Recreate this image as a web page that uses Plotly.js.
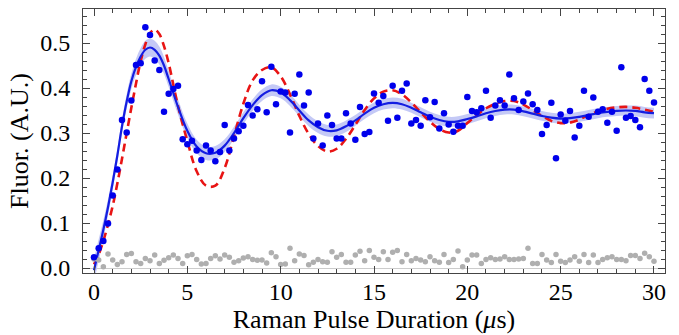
<!DOCTYPE html>
<html>
<head>
<meta charset="utf-8">
<script src="https://cdn.plot.ly/plotly-3.0.1.min.js"></script>
<style>html,body{margin:0;padding:0;background:#fff;}#chart{width:679px;height:335px;}</style>
</head>
<body>
<div id="chart"></div>
<script>
// Sampling grid of the measurements (every 0.25 us, 0 .. 30 us)
const sampleStep = 0.25;
const sampleCount = 121;
const pulseTimes = Array.from({length: sampleCount}, (_, i) => i * sampleStep);

// Measured fluorescence (blue points)
const fluorSignal = [
  0.024, 0.044, 0.060, 0.099,
  0.161, 0.219, 0.329, 0.301,
  0.372, 0.451, 0.455, 0.535,
  0.518, 0.461, 0.440, 0.347,
  0.387, 0.398, 0.405, 0.286,
  0.275, 0.283, 0.261, 0.240,
  0.272, 0.261, 0.237, 0.258,
  0.318, 0.261, 0.288, 0.304,
  0.316, 0.362, 0.339, 0.353,
  0.415, 0.346, 0.447, 0.364,
  0.392, 0.390, 0.301, 0.387,
  0.430, 0.361, 0.390, 0.288,
  0.321, 0.272, 0.339, 0.318,
  0.288, 0.288, 0.344, 0.321,
  0.285, 0.358, 0.298, 0.302,
  0.388, 0.367, 0.382, 0.327,
  0.405, 0.334, 0.394, 0.410,
  0.321, 0.329, 0.316, 0.373,
  0.335, 0.369, 0.310, 0.344,
  0.319, 0.303, 0.316, 0.316,
  0.380, 0.349, 0.346, 0.355,
  0.394, 0.334, 0.361, 0.373,
  0.361, 0.430, 0.377, 0.351,
  0.370, 0.388, 0.364, 0.351,
  0.298, 0.318, 0.367, 0.244,
  0.341, 0.327, 0.349, 0.290,
  0.316, 0.394, 0.336, 0.379,
  0.347, 0.353, 0.323, 0.347,
  0.305, 0.446, 0.334, 0.338,
  0.329, 0.313, 0.420, 0.394,
  0.368
];

// Background fluorescence (gray points)
const backgroundSignal = [
  0.020, 0.018, 0.003, 0.031,
  0.018, 0.008, 0.014, 0.030,
  0.032, 0.014, 0.010, 0.021,
  0.016, 0.029, 0.010, 0.017,
  0.023, 0.029, 0.021, 0.010,
  0.027, 0.030, 0.019, 0.009,
  0.010, 0.021, 0.027, 0.020,
  0.029, 0.024, 0.013, 0.016,
  0.022, 0.025, 0.019, 0.017,
  0.018, 0.011, 0.034, 0.025,
  0.008, 0.009, 0.044, 0.016,
  0.031, 0.028, 0.007, 0.013,
  0.019, 0.014, 0.013, 0.036,
  0.024, 0.030, 0.013, 0.013,
  0.029, 0.037, 0.016, 0.039,
  0.024, 0.019, 0.036, 0.019,
  0.035, 0.039, 0.014, 0.030,
  0.016, 0.021, 0.018, 0.014,
  0.025, 0.016, 0.013, 0.030,
  0.012, 0.019, 0.038, 0.003,
  0.018, 0.029, 0.029, 0.010,
  0.019, 0.023, 0.019, 0.020,
  0.025, 0.019, 0.019, 0.020,
  0.021, 0.044, 0.010, 0.010,
  0.030, 0.018, 0.012, 0.030,
  0.015, 0.012, 0.018, 0.025,
  0.015, 0.030, 0.012, 0.029,
  0.012, 0.019, 0.023, 0.025,
  0.019, 0.019, 0.016, 0.028,
  0.028, 0.021, 0.033, 0.025,
  0.015
];

// Curves
const curveTimes = [0, 0.25, 0.5, 0.75, 1, 1.25, 1.5, 1.75, 2, 2.25, 2.5, 2.75, 3, 3.25, 3.5, 3.75,
  4, 4.5, 5, 5.5, 6, 6.5, 7, 7.5, 8, 8.5, 9, 9.5, 10, 10.5, 11, 11.5, 12, 12.5, 13, 13.5,
  14, 14.5, 15, 15.5, 16, 16.5, 17, 17.5, 18, 18.5, 19, 19.5, 20, 20.5, 21, 21.5, 22, 22.5,
  23, 23.5, 24, 24.5, 25, 25.5, 26, 26.5, 27, 27.5, 28, 28.5, 29, 29.5, 30];

const fitCurve = [-0.005, 0.040, 0.085, 0.135, 0.190, 0.250, 0.315, 0.370, 0.415, 0.447, 0.470, 0.485, 0.490, 0.485, 0.472, 0.450,
  0.420, 0.358, 0.305, 0.270, 0.255, 0.256, 0.272, 0.300, 0.333, 0.362, 0.384, 0.395, 0.390, 0.373, 0.350, 0.328, 0.313, 0.305, 0.306, 0.315,
  0.328, 0.343, 0.356, 0.364, 0.367, 0.364, 0.356, 0.346, 0.336, 0.329, 0.325, 0.326, 0.331, 0.337, 0.344, 0.349, 0.352, 0.352,
  0.348, 0.343, 0.338, 0.334, 0.332, 0.333, 0.336, 0.340, 0.344, 0.347, 0.349, 0.350, 0.349, 0.346, 0.344];

const fitBandHalfWidth = [0.026, 0.024, 0.021, 0.018, 0.016, 0.015, 0.015, 0.016, 0.017, 0.018, 0.019, 0.020, 0.020, 0.020, 0.020, 0.019,
  0.018, 0.017, 0.016, 0.015, 0.015, 0.015, 0.014, 0.014, 0.013, 0.013, 0.013, 0.013, 0.013, 0.013, 0.013, 0.013, 0.013, 0.013, 0.013, 0.013,
  0.012, 0.012, 0.012, 0.012, 0.012, 0.012, 0.011, 0.011, 0.011, 0.011, 0.011, 0.011, 0.011, 0.011, 0.011, 0.011, 0.011, 0.011,
  0.011, 0.011, 0.011, 0.011, 0.011, 0.011, 0.011, 0.011, 0.011, 0.011, 0.011, 0.011, 0.012, 0.012, 0.012];

const theoryCurve = [0.008, 0.030, 0.060, 0.097, 0.138, 0.188, 0.243, 0.300, 0.356, 0.410, 0.460, 0.497, 0.522, 0.530, 0.520, 0.493,
  0.455, 0.360, 0.282, 0.215, 0.183, 0.183, 0.222, 0.293, 0.365, 0.417, 0.440, 0.446, 0.426, 0.386, 0.338, 0.298, 0.271, 0.259, 0.265, 0.287,
  0.318, 0.351, 0.377, 0.392, 0.395, 0.386, 0.368, 0.346, 0.325, 0.309, 0.301, 0.305, 0.322, 0.340, 0.355, 0.365, 0.371, 0.371,
  0.363, 0.351, 0.338, 0.327, 0.322, 0.323, 0.330, 0.340, 0.348, 0.354, 0.357, 0.358, 0.356, 0.352, 0.347];

const xTickVals = [0, 5, 10, 15, 20, 25, 30];
const xTickText = ['0', '5', '10', '15', '20', '25', '30'];
const yTickVals = [0, 0.1, 0.2, 0.3, 0.4, 0.5];
const yTickText = ['0.0', '0.1', '0.2', '0.3', '0.4', '0.5'];

const bandLower = fitCurve.map((v, i) => v - fitBandHalfWidth[i]);
const bandUpper = fitCurve.map((v, i) => v + fitBandHalfWidth[i]);

const traces = [
  {x: curveTimes, y: bandLower, mode: 'lines', line: {width: 0, shape: 'spline', color: 'rgba(0,0,0,0)'}, hoverinfo: 'skip', showlegend: false},
  {x: curveTimes, y: bandUpper, mode: 'lines', fill: 'tonexty', fillcolor: 'rgb(196,201,246)', line: {width: 0, shape: 'spline', color: 'rgba(0,0,0,0)'}, hoverinfo: 'skip', showlegend: false},
  {x: curveTimes, y: theoryCurve, mode: 'lines', line: {color: 'rgb(232,20,20)', width: 2.6, dash: '8px,5px', shape: 'spline'}, showlegend: false},
  {x: curveTimes, y: fitCurve, mode: 'lines', line: {color: 'rgb(20,30,225)', width: 2.2, shape: 'spline'}, showlegend: false},
  {x: pulseTimes, y: backgroundSignal, mode: 'markers', marker: {color: 'rgb(175,175,175)', size: 5.5}, showlegend: false},
  {x: pulseTimes, y: fluorSignal, mode: 'markers', marker: {color: 'rgb(0,0,235)', size: 6.5}, showlegend: false}
];

const serif = '"Times New Roman", "Liberation Serif", "DejaVu Serif", serif';
const layout = {
  width: 679, height: 335,
  margin: {l: 83, r: 14, t: 9, b: 62},
  paper_bgcolor: '#fff', plot_bgcolor: '#fff',
  font: {family: serif, color: '#000'},
  showlegend: false,
  xaxis: {
    range: [-0.59, 30.59],
    tickvals: xTickVals, ticktext: xTickText,
    ticks: 'inside', ticklen: 7, tickwidth: 1, tickcolor: '#444',
    minor: {dtick: 1, ticks: 'inside', ticklen: 4, tickcolor: '#444', tickwidth: 1, showgrid: false},
    showline: true, linecolor: '#444', linewidth: 1, mirror: 'allticks',
    showgrid: false, zeroline: false,
    tickfont: {family: serif, size: 24, color: '#000'},
    ticklabelstandoff: -3,
    title: {text: 'Raman Pulse Duration (<i>μ</i>s)', font: {family: serif, size: 26, color: '#000'}, standoff: 3}
  },
  yaxis: {
    range: [-0.0111, 0.5756],
    tickvals: yTickVals, ticktext: yTickText,
    ticks: 'inside', ticklen: 7, tickwidth: 1, tickcolor: '#444',
    minor: {dtick: 0.02, ticks: 'inside', ticklen: 4, tickcolor: '#444', tickwidth: 1, showgrid: false},
    showline: true, linecolor: '#444', linewidth: 1, mirror: 'allticks',
    showgrid: false, zeroline: true, zerolinecolor: '#cccccc', zerolinewidth: 1,
    tickfont: {family: serif, size: 24, color: '#000'},
    ticklabelstandoff: 7,
    title: {text: 'Fluor. (A.U.)', font: {family: serif, size: 26, color: '#000'}, standoff: 4}
  }
};

Plotly.newPlot('chart', traces, layout, {staticPlot: true, displayModeBar: false});
</script>
</body>
</html>
